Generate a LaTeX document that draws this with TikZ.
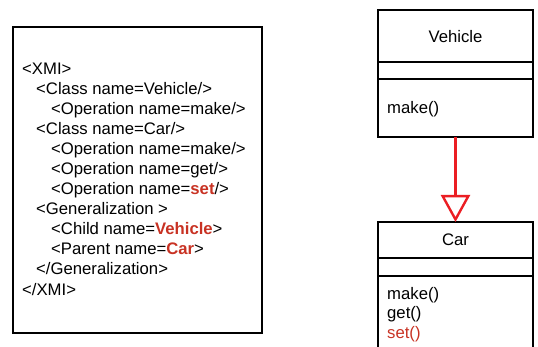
\documentclass[tikz,border=0pt]{standalone}
\usepackage{fontspec}
\setmainfont{Liberation Sans}
\usetikzlibrary{arrows.meta}
\definecolor{txtred}{RGB}{200,50,35}
\definecolor{arrred}{RGB}{235,30,35}
\begin{document}
\begin{tikzpicture}[x=1pt,y=-1pt,
  every node/.style={inner sep=0pt,font=\fontsize{16.7}{20}\selectfont},
  xline/.style={anchor=base west},
  box/.style={draw=black,line width=2.6pt},
  sep/.style={draw=black,line width=2pt}]
\useasboundingbox (0,0) rectangle (538,347);
\clip (0,0) rectangle (538,347);
% XMI box
\draw[box] (13,27) rectangle (262,333);
\node[xline] (l1) at (22,75) {<XMI>};
\node[xline] (l2) at (36,95) {<Class name=Vehicle/>};
\node[xline] (l3) at (51,115) {<Operation name=make/>};
\node[xline] (l4) at (36,135) {<Class name=Car/>};
\node[xline] (l5) at (51,155) {<Operation name=make/>};
\node[xline] (l6) at (51,175) {<Operation name=get/>};
\node[xline] (l7) at (51,195) {<Operation name=\textcolor{txtred}{\textbf{set}}/>};
\node[xline] (l8) at (36,215) {<Generalization >};
\node[xline] (l9) at (51,235) {<Child name=\textcolor{txtred}{\textbf{Vehicle}}>};
\node[xline] (l10) at (51,255) {<Parent name=\textcolor{txtred}{\textbf{Car}}>};
\node[xline] (l11) at (36,275) {</Generalization>};
\node[xline] (l12) at (22,295) {</XMI>};
% Vehicle class
\draw[box] (378,10) rectangle (533,137);
\draw[sep] (378,62) -- (533,62);
\draw[sep] (378,79) -- (533,79);
\node[anchor=base] (vname) at (455.5,43) {Vehicle};
\node[xline] (vm) at (387,114) {make()};
\coordinate (vbot) at (455.5,137);
% Car class
\draw[box] (378,222) rectangle (533,360);
\draw[sep] (378,258) -- (533,258);
\draw[sep] (378,276) -- (533,276);
\node[anchor=base] (cname) at (455.5,246) {Car};
\node[xline] (cm1) at (387,299) {make()};
\node[xline] (cm2) at (387,318) {get()};
\node[xline,text=txtred] (cm3) at (387,338) {set()};
\coordinate (ctop) at (455.5,222);
% generalization arrow
\draw[arrred,line width=2.6pt,-{Triangle[open,length=27pt,width=29pt,line width=2.4pt]}] (vbot) -- (ctop);
\end{tikzpicture}
\end{document}
